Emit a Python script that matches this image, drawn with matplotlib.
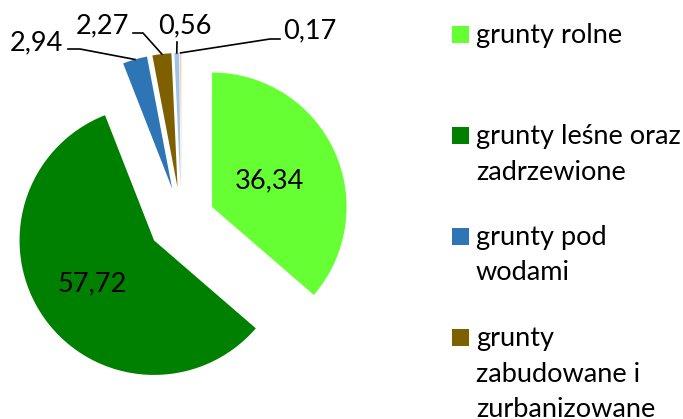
import numpy as np
import matplotlib
matplotlib.use('Agg')
from matplotlib import pyplot as plt
from matplotlib.patches import Rectangle

plt.rcParams['font.family'] = ['Lato', 'DejaVu Sans']

# struktura uzytkowania gruntow (%)
values = [36.34, 57.72, 2.94, 2.27, 0.56, 0.17]
value_labels = ['36,34', '57,72', '2,94', '2,27', '0,56', '0,17']
colors = ['#66FF33', '#008000', '#2E75B6', '#7F6000', '#9DC3E6', '#F8CBAD']
legend_labels = ['grunty rolne',
                 'grunty leśne oraz\nzadrzewione',
                 'grunty pod\nwodami',
                 'grunty\nzabudowane i\nzurbanizowane']

R = 134.5           # pie radius in pixels
CX, CY = 181.5, 221.0   # pie centre in pixels (image coords)


def px(x, y):
    """image pixel -> data coords"""
    return (x - CX) / R, (CY - y) / R


fig = plt.figure(figsize=(6.83, 4.19), dpi=100)
ax = fig.add_axes([0, 0, 1, 1])
wedges, _ = ax.pie(values, colors=colors, startangle=90, counterclock=False,
                   explode=[0.25] * len(values), radius=1,
                   wedgeprops=dict(linewidth=0))
ax.set_aspect('auto')
ax.set_xlim(px(0, 0)[0], px(683, 0)[0])
ax.set_ylim(px(0, 419)[1], px(0, 0)[1])
ax.axis('off')

fs = 19.5

# labels inside the two big slices
for i, d in [(0, 0.47), (1, 0.56)]:
    w = wedges[i]
    ang = np.deg2rad((w.theta1 + w.theta2) / 2)
    cx, cy = w.center
    ax.text(cx + d * np.cos(ang), cy + d * np.sin(ang), value_labels[i],
            ha='center', va='center', fontsize=fs)

# small slices: label + leader line (layout in pixels)
small = {
    2: dict(pos=(63, 50), ha='right', path=[(80, 49), (68, 49)]),
    3: dict(pos=(102, 33), ha='center', path=[(143, 33), (133, 33)]),
    4: dict(pos=(185, 33), ha='center', path=[(177, 42)]),
    5: dict(pos=(283, 38.5), ha='left', path=[(270, 39), (280, 39)]),
}
for i, s in small.items():
    w = wedges[i]
    ang = np.deg2rad((w.theta1 + w.theta2) / 2)
    cx, cy = w.center
    xs = [cx + np.cos(ang)]
    ys = [cy + np.sin(ang)]
    for p in s['path']:
        x, y = px(*p)
        xs.append(x)
        ys.append(y)
    ax.plot(xs, ys, color='black', linewidth=1.2)
    tx, ty = px(*s['pos'])
    ax.text(tx, ty, value_labels[i], ha=s['ha'], va='baseline', fontsize=fs)

# legend (only the first four entries fit in the picture)
first_baselines = [43, 144, 245, 346]
for i, lab in enumerate(legend_labels):
    b = first_baselines[i]
    x0, y0 = px(452, b)
    ax.add_patch(Rectangle((x0, y0), 17 / R, 17 / R, color=colors[i],
                           linewidth=0))
    for k, line in enumerate(lab.split('\n')):
        tx, ty = px(476, b + 35.5 * k)
        ax.text(tx, ty, line, ha='left', va='baseline', fontsize=fs)

plt.savefig('out.png', dpi=100)
